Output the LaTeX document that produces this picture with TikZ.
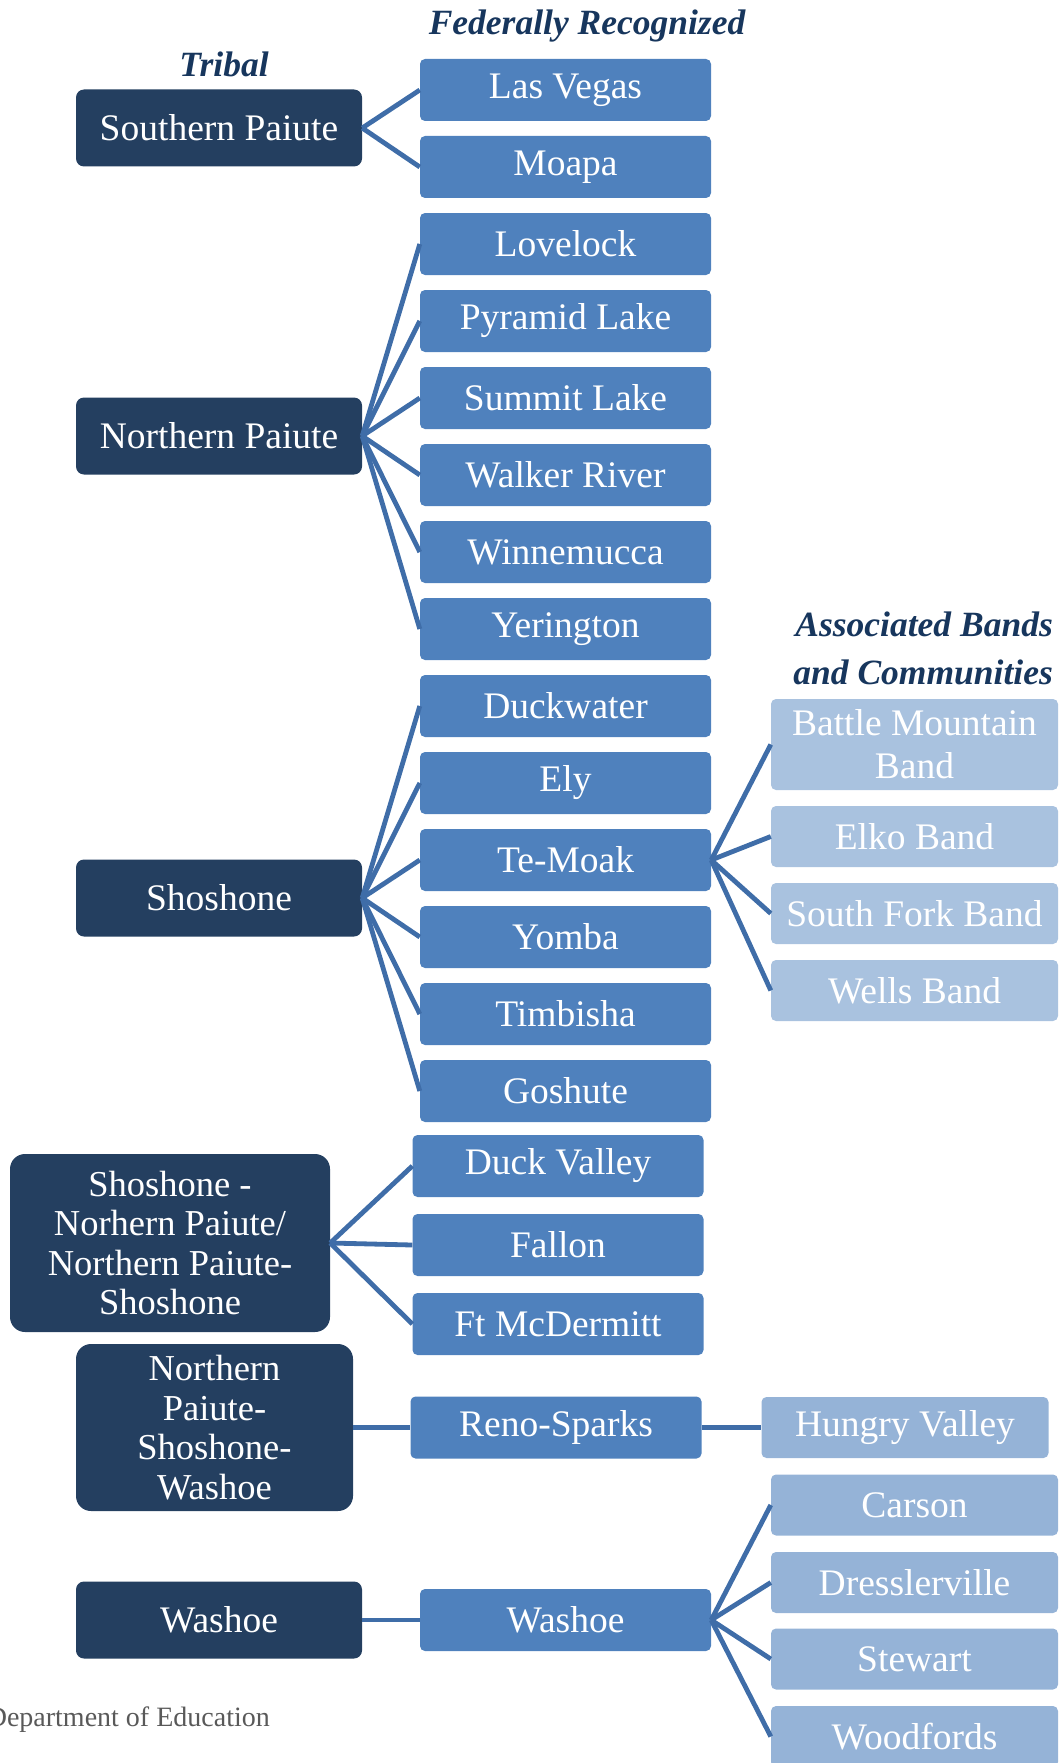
\documentclass[tikz,border=0pt]{standalone}
\usepackage{fontspec}
\setmainfont{Liberation Serif}
\definecolor{tribal}{HTML}{243F60}
\definecolor{fed}{HTML}{4F81BD}
\definecolor{assocA}{HTML}{A9C2DF}
\definecolor{assocB}{HTML}{95B3D7}
\definecolor{conn}{HTML}{3F6DA8}
\definecolor{titlec}{HTML}{17365D}
\definecolor{footc}{HTML}{595959}
\tikzset{
  box/.style={rectangle, inner sep=0pt, align=center, text=white,
    font=\fontsize{37.5}{43}\selectfont},
  tribalbox/.style={box, fill=tribal, rounded corners=8pt, minimum width=286pt, minimum height=77pt},
  bigtribal/.style={box, fill=tribal, rounded corners=15pt, font=\fontsize{36.5}{39.5}\selectfont},
  fedbox/.style={box, fill=fed, rounded corners=5pt, minimum width=291pt, minimum height=62pt},
  assocbox/.style={box, fill=assocA, rounded corners=5pt, minimum width=287pt, minimum height=61pt},
  assocboxB/.style={box, fill=assocB, rounded corners=5pt, minimum width=287pt, minimum height=61pt},
  link/.style={draw=conn, line width=4.8pt},
  titletext/.style={text=titlec, font=\fontsize{35.5}{40}\selectfont\bfseries\itshape, inner sep=0pt},
}
\begin{document}
\begin{tikzpicture}[x=1pt,y=-1pt]
\useasboundingbox (0,0) rectangle (1062,1763);

% titles
\node[titletext, anchor=base] (tFed) at (587,35) {Federally Recognized};
\node[titletext, anchor=base] (tTribal) at (224,77) {Tribal};
\node[titletext, anchor=base east] (tAssoc1) at (1053,636) {Associated Bands};
\node[titletext, anchor=base east] (tAssoc2) at (1053,684) {and Communities};

% tribal boxes
\node[tribalbox] (sp) at (219,128) {Southern Paiute};
\node[tribalbox] (np) at (219,436) {Northern Paiute};
\node[tribalbox] (sh) at (219,898) {Shoshone};
\node[bigtribal, minimum width=320pt, minimum height=178pt] (snp) at (170,1243)
  {Shoshone -\\Norhern Paiute/\\Northern Paiute-\\Shoshone};
\node[bigtribal, minimum width=277pt, minimum height=167pt] (npsw) at (214.5,1427.5)
  {Northern\\Paiute-\\Shoshone-\\Washoe};
\node[tribalbox] (wa) at (219,1620) {Washoe};

% federally recognized
\node[fedbox] (lv) at (565.5,90) {Las Vegas};
\node[fedbox] (mo) at (565.5,167) {Moapa};
\node[fedbox] (lo) at (565.5,244) {Lovelock};
\node[fedbox] (pl) at (565.5,321) {Pyramid Lake};
\node[fedbox] (sl) at (565.5,398) {Summit Lake};
\node[fedbox] (wr) at (565.5,475) {Walker River};
\node[fedbox] (wi) at (565.5,552) {Winnemucca};
\node[fedbox] (ye) at (565.5,629) {Yerington};
\node[fedbox] (du) at (565.5,706) {Duckwater};
\node[fedbox] (el) at (565.5,783) {Ely};
\node[fedbox] (tm) at (565.5,860) {Te-Moak};
\node[fedbox] (yo) at (565.5,937) {Yomba};
\node[fedbox] (ti) at (565.5,1014) {Timbisha};
\node[fedbox] (go) at (565.5,1091) {Goshute};
\node[fedbox] (dv) at (558,1166) {Duck Valley};
\node[fedbox] (fa) at (558,1245) {Fallon};
\node[fedbox] (fm) at (558,1324) {Ft McDermitt};
\node[fedbox] (rs) at (556,1427.5) {Reno-Sparks};
\node[fedbox] (wf) at (565.5,1620) {Washoe};

% associated
\node[assocbox, minimum height=91pt] (bm) at (914.5,744.5) {Battle Mountain\\Band};
\node[assocbox] (ek) at (914.5,836.5) {Elko Band};
\node[assocbox] (sf) at (914.5,913.5) {South Fork Band};
\node[assocbox] (wb) at (914.5,990.5) {Wells Band};
\node[assocboxB] (hv) at (905,1427.5) {Hungry Valley};
\node[assocboxB] (ca) at (914.5,1505) {Carson};
\node[assocboxB] (dr) at (914.5,1582.5) {Dresslerville};
\node[assocboxB] (st) at (914.5,1659) {Stewart};
\node[assocboxB] (wo) at (914.5,1736.5) {Woodfords};

% connectors
\foreach \c in {lv,mo} \draw[link] (sp.east) -- (\c.west);
\foreach \c in {lo,pl,sl,wr,wi,ye} \draw[link] (np.east) -- (\c.west);
\foreach \c in {du,el,tm,yo,ti,go} \draw[link] (sh.east) -- (\c.west);
\foreach \c in {dv,fa,fm} \draw[link] (snp.east) -- (\c.west);
\draw[link] (npsw.east) -- (rs.west);
\draw[link] (wa.east) -- (wf.west);
\foreach \c in {bm,ek,sf,wb} \draw[link] (tm.east) -- (\c.west);
\draw[link] (rs.east) -- (hv.west);
\foreach \c in {ca,dr,st,wo} \draw[link] (wf.east) -- (\c.west);

% footer
\node[anchor=base east, inner sep=0pt, text=footc, font=\fontsize{28}{32}\selectfont] (foot) at (270,1726) {Department of Education};
\end{tikzpicture}
\end{document}
